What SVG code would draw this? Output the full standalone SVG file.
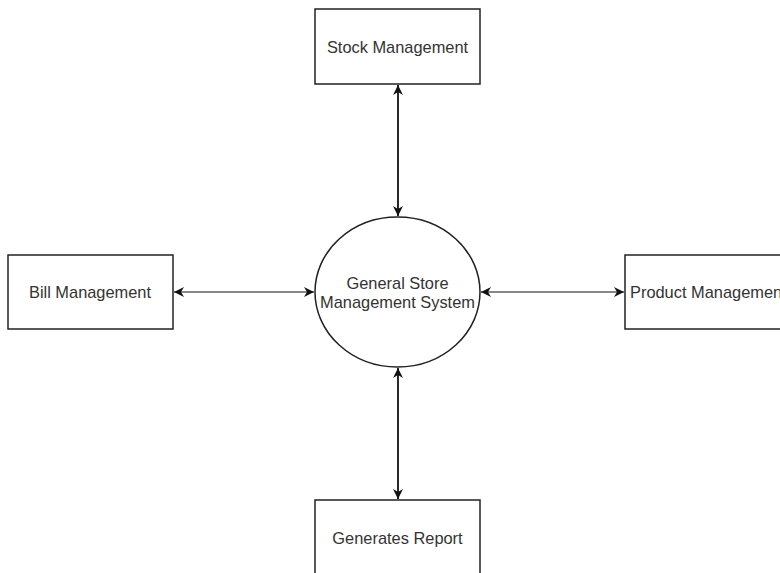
<svg xmlns="http://www.w3.org/2000/svg" width="780" height="573" viewBox="0 0 780 573">
<style>
.box{fill:#fff;stroke:#222;stroke-width:1.5}
.lbl{font-family:"Liberation Sans",Arial,sans-serif;font-size:16.4px;fill:#333;text-anchor:middle;dominant-baseline:central}
.edge{stroke:#111;fill:none}
</style>
<defs>
<marker id="ah" viewBox="0 0 10 10" refX="10" refY="5" markerWidth="10" markerHeight="10" markerUnits="userSpaceOnUse" orient="auto-start-reverse">
<path d="M0,0 L10,5 L0,10 L3,5 z" fill="#111"/>
</marker>
</defs>
<rect width="780" height="573" fill="#fff"/>
<g id="connectors">
<line class="edge" x1="398" y1="85" x2="398" y2="216" stroke-width="1.8" marker-start="url(#ah)" marker-end="url(#ah)"/>
<line class="edge" x1="398" y1="368" x2="398" y2="499" stroke-width="1.8" marker-start="url(#ah)" marker-end="url(#ah)"/>
<line class="edge" x1="174" y1="292" x2="314" y2="292" stroke-width="1.1" marker-start="url(#ah)" marker-end="url(#ah)"/>
<line class="edge" x1="481" y1="292" x2="624" y2="292" stroke-width="1.1" marker-start="url(#ah)" marker-end="url(#ah)"/>
</g>
<g id="stock">
<rect class="box" x="315" y="9" width="165" height="75"/>
<text class="lbl" x="397.5" y="47">Stock Management</text>
</g>
<g id="system">
<ellipse cx="397.5" cy="292" rx="82.5" ry="75" fill="#fff" stroke="#222" stroke-width="1.5"/>
<text class="lbl" x="397.5" y="283">General Store</text>
<text class="lbl" x="397.5" y="302">Management System</text>
</g>
<g id="bill">
<rect class="box" x="8" y="255" width="165" height="74"/>
<text class="lbl" x="90" y="292">Bill Management</text>
</g>
<g id="product">
<rect class="box" x="625" y="255" width="170" height="74"/>
<text class="lbl" x="630" y="292" style="text-anchor:start">Product Management</text>
</g>
<g id="report">
<rect class="box" x="315" y="500" width="165" height="80"/>
<text class="lbl" x="397.5" y="538">Generates Report</text>
</g>
</svg>
